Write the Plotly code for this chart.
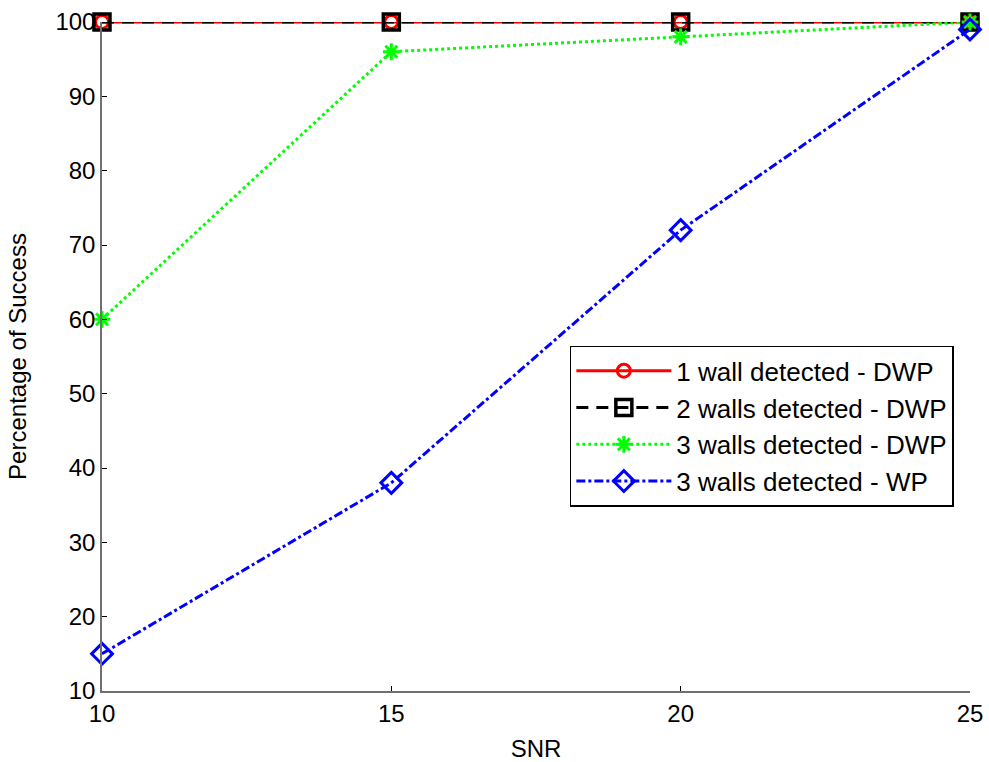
import plotly.graph_objects as go

snr = [10, 15, 20, 25]
wall1_dwp = [100, 100, 100, 100]
wall2_dwp = [100, 100, 100, 100]
wall3_dwp = [60, 96, 98, 100]
wall3_wp = [15, 38, 72, 99]
names = ["1 wall detected - DWP", "2 walls detected - DWP",
         "3 walls detected - DWP", "3 walls detected - WP"]
x_ticks = [10, 15, 20, 25]
y_ticks = [10, 20, 30, 40, 50, 60, 70, 80, 90, 100]

fig = go.Figure()
fig.add_trace(go.Scatter(x=snr, y=wall1_dwp, name=names[0], mode="lines+markers",
                         line=dict(color="#ff0000", width=3, dash="solid"),
                         marker=dict(symbol="circle-open", size=13, color="#ff0000", line=dict(width=3)),
                         cliponaxis=False))
fig.add_trace(go.Scatter(x=snr, y=wall2_dwp, name=names[1], mode="lines+markers",
                         line=dict(color="#000000", width=3, dash="12px,8px"),
                         marker=dict(symbol="square-open", size=16, color="#000000", line=dict(width=3.5)),
                         cliponaxis=False))
fig.add_trace(go.Scatter(x=snr, y=wall3_dwp, name=names[2], mode="lines+markers",
                         line=dict(color="#00ff00", width=3, dash="dot"),
                         marker=dict(symbol="asterisk-open", size=14, color="#00ff00", line=dict(width=3, color="#00ff00")),
                         cliponaxis=False))
fig.add_trace(go.Scatter(x=snr, y=wall3_wp, name=names[3], mode="lines+markers",
                         line=dict(color="#0000ff", width=3, dash="dashdot"),
                         marker=dict(symbol="diamond-open", size=16, color="#0000ff", line=dict(width=3)),
                         cliponaxis=False))

font_family = "Liberation Sans, Arial, sans-serif"
fig.update_layout(
    template="none",
    width=989, height=762,
    margin=dict(l=102, r=19, t=22, b=71, autoexpand=False),
    paper_bgcolor="white", plot_bgcolor="white",
    font=dict(family=font_family, size=24, color="black"),
    showlegend=True,
    legend=dict(x=0.539, y=0.516, xanchor="left", yanchor="top",
                bgcolor="white", bordercolor="black", borderwidth=1.5,
                font=dict(size=26), tracegroupgap=0, itemwidth=95),
    xaxis=dict(range=[10, 25], tickvals=x_ticks, ticks="inside", ticklen=5,
               tickcolor="black", showline=True, linecolor="#707070", linewidth=1.5,
               showgrid=False, zeroline=False, mirror=False, automargin=False,
               title=dict(text="SNR", font=dict(size=24), standoff=15),
               tickfont=dict(size=24)),
    yaxis=dict(range=[10, 100], tickvals=y_ticks, ticks="inside", ticklen=5,
               tickcolor="black", showline=True, linecolor="#707070", linewidth=1.5,
               showgrid=False, zeroline=False, mirror=False, automargin=False,
               title=dict(text="Percentage of Success", font=dict(size=24), standoff=22),
               tickfont=dict(size=24)),
)

fig.write_html("out.html",
               config={"displayModeBar": False},
               post_script="document.body.style.margin='0';document.body.style.overflow='hidden';")
